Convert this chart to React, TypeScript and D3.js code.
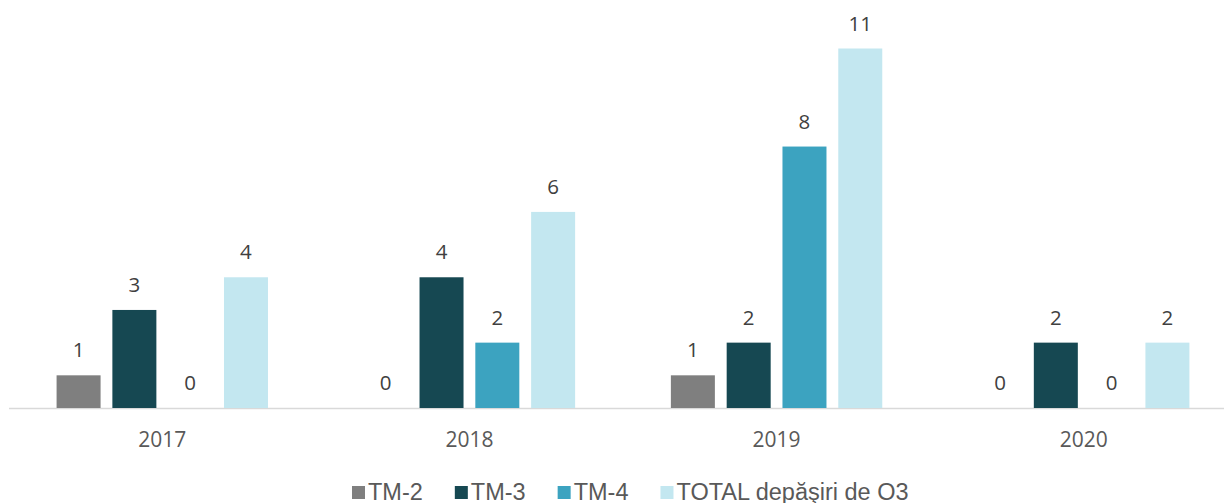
import React from "react";
import * as d3 from "d3";

const years = ["2017", "2018", "2019", "2020"];
const seriesNames = ["TM-2", "TM-3", "TM-4", "TOTAL depăşiri de O3"];
const tm2 = [1, 0, 1, 0];
const tm3 = [3, 4, 2, 2];
const tm4 = [0, 2, 8, 0];
const total = [4, 6, 11, 2];
const seriesValues = [tm2, tm3, tm4, total];
const colors = ["#7f7f7f", "#164852", "#3ca3c0", "#c3e7f0"];

const W = 1225;
const H = 503;

export default function App() {
  const x0 = d3.scaleBand<string>().domain(years).range([8.7, 1237.3]).paddingInner(0).paddingOuter(0);
  const x1 = d3
    .scaleBand<string>()
    .domain(seriesNames)
    .range([0, x0.bandwidth()])
    .paddingInner(0.2115)
    .paddingOuter(0.858);
  const y = d3.scaleLinear().domain([0, 11]).range([408, 48.5]);

  const legendSize = 23.5;
  const legendFamily = "'Liberation Sans', Arial, sans-serif";
  const measure = (t: string) => {
    const c = document.createElement("canvas").getContext("2d");
    if (!c) return t.length * 11;
    c.font = `${legendSize}px ${legendFamily}`;
    return c.measureText(t).width;
  };
  let lx = 352;
  const legendItems = seriesNames.map((n, i) => {
    const item = { n, i, x: lx };
    lx += 16 + measure(n) + 32;
    return item;
  });

  const labelFont = "'Open Sans', 'Segoe UI', sans-serif";

  return (
    <div style={{ position: "absolute", left: 0, top: 0 }}>
      <svg width={W} height={H} style={{ display: "block", background: "#fff" }}>
        <line x1={9} x2={1224} y1={408.5} y2={408.5} stroke="#d9d9d9" strokeWidth={1.5} />
        {years.map((yr, gi) => (
          <g key={yr} transform={`translate(${x0(yr)},0)`}>
            {seriesNames.map((s, si) => {
              const v = seriesValues[si][gi];
              const bx = x1(s)!;
              return (
                <g key={s}>
                  {v > 0 && (
                    <rect x={bx} y={y(v)} width={x1.bandwidth()} height={y(0) - y(v)} fill={colors[si]} />
                  )}
                  <text
                    x={bx + x1.bandwidth() / 2}
                    y={y(v) - 18}
                    textAnchor="middle"
                    fontFamily={labelFont}
                    fontSize={20.5}
                    fill="#404040"
                  >
                    {v}
                  </text>
                </g>
              );
            })}
            <text
              x={x0.bandwidth() / 2}
              y={447}
              textAnchor="middle"
              fontFamily={labelFont}
              fontSize={21}
              fill="#595959"
            >
              {yr}
            </text>
          </g>
        ))}
        {legendItems.map((it) => (
          <g key={it.n}>
            <rect x={it.x} y={486} width={13} height={13} fill={colors[it.i]} />
            <text
              x={it.x + 16}
              y={499.5}
              fontFamily={legendFamily}
              fontSize={legendSize}
              fill="#595959"
            >
              {it.n}
            </text>
          </g>
        ))}
      </svg>
    </div>
  );
}
